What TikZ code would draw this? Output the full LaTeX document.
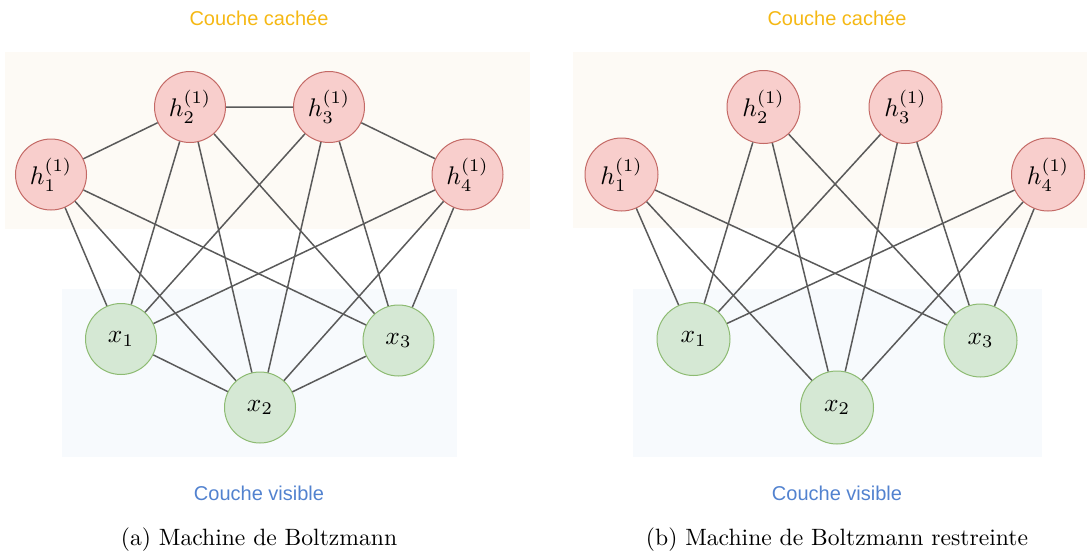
\documentclass[tikz,border=0pt]{standalone}
\usepackage{fontspec}
\newfontfamily\layerfont{Liberation Sans}
\newcommand\bigmath[1]{\scalebox{2.55}{$#1$}}
\newcommand\bigcaption[1]{\scalebox{2.36}{#1}}
\definecolor{hidfill}{HTML}{F8CECC}
\definecolor{hiddraw}{HTML}{C46A66}
\definecolor{visfill}{HTML}{D5E8D4}
\definecolor{visdraw}{HTML}{8DBB72}
\definecolor{hidbg}{HTML}{FDFAF5}
\definecolor{visbg}{HTML}{F7FAFD}
\definecolor{hidtext}{HTML}{F5B814}
\definecolor{vistext}{HTML}{5282CF}
\definecolor{linkgray}{HTML}{5A5A5A}
\tikzset{hid/.style={circle, draw=hiddraw, fill=hidfill, line width=1pt, minimum size=71pt, inner sep=0pt},
  vis/.style={circle, draw=visdraw, fill=visfill, line width=1pt, minimum size=71pt, inner sep=0pt},
  link/.style={draw=linkgray, line width=1.5pt},
  layer/.style={anchor=base, inner sep=0pt, font=\layerfont\fontsize{20}{24}\selectfont},
  caption/.style={anchor=base, inner sep=0pt}}

\begin{document}
\begin{tikzpicture}[x=1pt,y=-1pt]
  \useasboundingbox (0,0) rectangle (1087,555);
  \fill[hidbg] (5,52) rectangle (530,229);
  \fill[visbg] (62,289) rectangle (457,457);
  \fill[hidbg] (573,52) rectangle (1087,228);
  \fill[visbg] (633,289) rectangle (1042,457);

  \node[layer, text=hidtext] (lhidden) at (259,25) {Couche cachée};
  \node[layer, text=vistext] (lvisible) at (259,500) {Couche visible};
  \node[caption] (lcaption) at (259,545.5) {\bigcaption{(a) Machine de Boltzmann}};
  \node[layer, text=hidtext] (rhidden) at (837,25) {Couche cachée};
  \node[layer, text=vistext] (rvisible) at (837,500) {Couche visible};
  \node[caption] (rcaption) at (837,545.5) {\bigcaption{(b) Machine de Boltzmann restreinte}};

  \node[hid] (lh1) at ( 51.0,174.5) {\bigmath{h_1^{(1)}}};
  \node[hid] (lh2) at (190.0,107.0) {\bigmath{h_2^{(1)}}};
  \node[hid] (lh3) at (329.0,107.0) {\bigmath{h_3^{(1)}}};
  \node[hid] (lh4) at (467.5,174.5) {\bigmath{h_4^{(1)}}};
  \node[vis] (lx1) at (121.0,339.0) {\bigmath{x_1}};
  \node[vis] (lx2) at (260.0,407.5) {\bigmath{x_2}};
  \node[vis] (lx3) at (398.5,340.5) {\bigmath{x_3}};

  \node[hid, minimum size=73pt] (rh1) at ( 621.5,174.5) {\bigmath{h_1^{(1)}}};
  \node[hid, minimum size=73pt] (rh2) at ( 763.5,107.0) {\bigmath{h_2^{(1)}}};
  \node[hid, minimum size=73pt] (rh3) at ( 905.5,107.0) {\bigmath{h_3^{(1)}}};
  \node[hid, minimum size=73pt] (rh4) at (1048.0,174.5) {\bigmath{h_4^{(1)}}};
  \node[vis, minimum size=73pt] (rx1) at ( 693.5,339.0) {\bigmath{x_1}};
  \node[vis, minimum size=73pt] (rx2) at ( 837.0,407.5) {\bigmath{x_2}};
  \node[vis, minimum size=73pt] (rx3) at ( 980.5,340.5) {\bigmath{x_3}};

  \draw[link] (lh1) -- (lh2) -- (lh3) -- (lh4);
  \draw[link] (lx1) -- (lx2) -- (lx3);
  \draw[link] (lh1) -- (lx1) (lh1) -- (lx2) (lh1) -- (lx3);
  \draw[link] (lh2) -- (lx1) (lh2) -- (lx2) (lh2) -- (lx3);
  \draw[link] (lh3) -- (lx1) (lh3) -- (lx2) (lh3) -- (lx3);
  \draw[link] (lh4) -- (lx1) (lh4) -- (lx2) (lh4) -- (lx3);

  \draw[link] (rh1) -- (rx1) (rh1) -- (rx2) (rh1) -- (rx3);
  \draw[link] (rh2) -- (rx1) (rh2) -- (rx2) (rh2) -- (rx3);
  \draw[link] (rh3) -- (rx1) (rh3) -- (rx2) (rh3) -- (rx3);
  \draw[link] (rh4) -- (rx1) (rh4) -- (rx2) (rh4) -- (rx3);
\end{tikzpicture}
\end{document}
